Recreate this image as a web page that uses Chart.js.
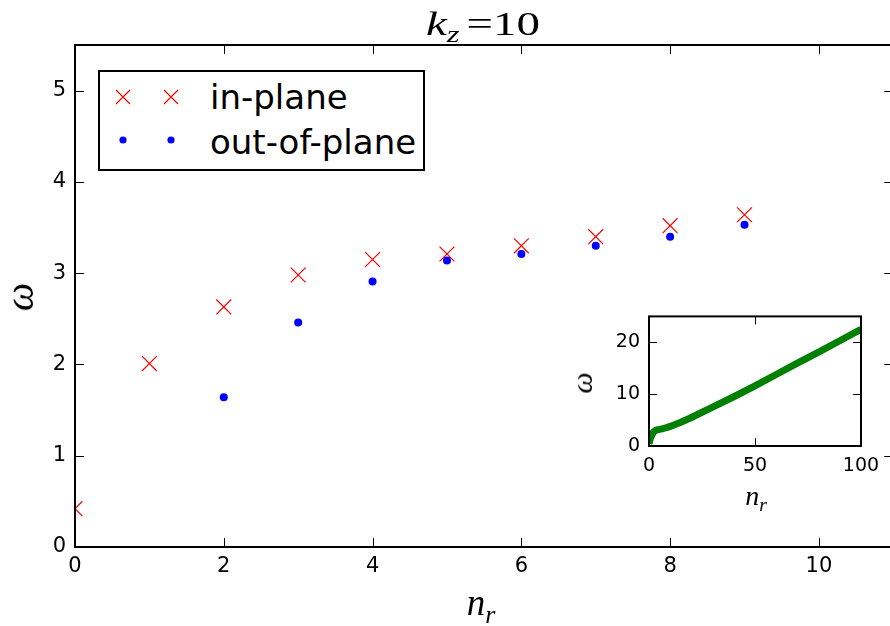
<!DOCTYPE html>
<html>
<head>
<meta charset="utf-8">
<script src="https://cdn.jsdelivr.net/npm/chart.js@4/dist/chart.umd.min.js"></script>
<style>
  html, body { margin: 0; padding: 0; background: #fff; overflow: hidden; width: 890px; height: 626px; }
  #wrap { position: relative; width: 890px; height: 626px; overflow: hidden; }
  canvas { position: absolute; }
  .lbl { position: absolute; white-space: nowrap; line-height: 1; color: #000; }
  .math { font-family: "Liberation Serif", "DejaVu Serif", serif; }
  .math i { font-style: italic; }
  .math sub { font-size: 70%; vertical-align: -0.3em; line-height: 0; }
  #legend { position: absolute; left: 98px; top: 70px; width: 327px; height: 101px; box-sizing: border-box;
            border: 2px solid #000; background: #fff; font-family: "DejaVu Sans", sans-serif; font-size: 34px; }
  #legend .t { position: absolute; left: 110px; line-height: 1; }
  #legend svg { position: absolute; }
</style>
</head>
<body>
<div id="wrap">
  <canvas id="main" width="905" height="626" style="left:0;top:0"></canvas>
  <canvas id="inset" width="330" height="214" style="left:560px;top:296px"></canvas>

  <div class="lbl math" id="title" style="font-size:34px;left:483px;top:7px;transform:translateX(-50%) scaleX(1.38)"><i>k</i><sub><i>z</i></sub><span style="margin-left:5px">=</span>10</div>
  <div class="lbl math" style="font-size:37px;left:481px;top:584px;transform:translateX(-50%)"><i>n</i><sub><i>r</i></sub></div>
  <div class="lbl math" style="font-size:40px;left:20px;top:297px;transform:translate(-50%,-50%) rotate(-90deg)"><i>ω</i></div>

  <div class="lbl math" style="font-size:28px;left:756px;top:482px;transform:translateX(-50%)"><i>n</i><sub><i>r</i></sub></div>
  <div class="lbl math" style="font-size:30px;left:582px;top:383px;transform:translate(-50%,-50%) rotate(-90deg)"><i>ω</i></div>

  <div id="legend">
    <svg style="left:15px;top:17px" width="16" height="16"><path d="M1 1 L15 15 M15 1 L1 15" stroke="#ff0000" stroke-width="1.2"/></svg>
    <svg style="left:63px;top:17px" width="16" height="16"><path d="M1 1 L15 15 M15 1 L1 15" stroke="#ff0000" stroke-width="1.2"/></svg>
    <div class="t" style="top:8px">in-plane</div>
    <svg style="left:19px;top:64px" width="8" height="8"><circle cx="4" cy="4" r="3.6" fill="#0000ff"/></svg>
    <svg style="left:67px;top:64px" width="8" height="8"><circle cx="4" cy="4" r="3.6" fill="#0000ff"/></svg>
    <div class="t" style="top:53px">out-of-plane</div>
  </div>
</div>

<script>
// main panel: k_z = 10, first ten radial modes
var nr = [0, 1, 2, 3, 4, 5, 6, 7, 8, 9];
var inPlane = [0.42, 2.01, 2.63, 2.98, 3.15, 3.21, 3.30, 3.40, 3.52, 3.64];
var nrOut = [2, 3, 4, 5, 6, 7, 8, 9];
var outOfPlane = [1.64, 2.46, 2.91, 3.14, 3.21, 3.30, 3.40, 3.53];

// inset: same branches out to n_r = 100
var insetN = [0, 1, 2, 3, 4, 5, 6, 7, 8, 9, 10, 15, 20, 30, 40, 50, 60, 70, 80, 90, 100];
var insetIn = [0.42, 2.01, 2.63, 2.98, 3.15, 3.21, 3.30, 3.40, 3.52, 3.64, 3.78, 4.6, 5.5, 7.5, 9.5, 11.6, 13.8, 16.0, 18.1, 20.3, 22.5];
var insetNOut = [2, 3, 4, 5, 6, 7, 8, 9, 10, 15, 20, 30, 40, 50, 60, 70, 80, 90, 100];
var insetOut = [1.64, 2.46, 2.91, 3.14, 3.21, 3.30, 3.40, 3.53, 3.62, 4.4, 5.3, 7.3, 9.3, 11.4, 13.6, 15.8, 17.9, 20.1, 22.3];

function pairs(xs, ys) {
    return xs.map(function (x, i) { return { x: x, y: ys[i] }; });
}

// matplotlib-style frame with inward ticks on all four sides
var innerTicks = {
    id: 'innerTicks',
    afterDraw: function (chart, args, opts) {
        var ctx = chart.ctx, a = chart.chartArea, sx = chart.scales.x, sy = chart.scales.y;
        var L = opts.len;
        ctx.save();
        ctx.strokeStyle = '#000';
        ctx.lineWidth = 1;
        ctx.beginPath();
        sx.ticks.forEach(function (t) {
            var px = Math.round(sx.getPixelForValue(t.value)) + 0.5;
            ctx.moveTo(px, a.bottom); ctx.lineTo(px, a.bottom - L);
            ctx.moveTo(px, a.top); ctx.lineTo(px, a.top + L);
        });
        sy.ticks.forEach(function (t) {
            var py = Math.round(sy.getPixelForValue(t.value)) + 0.5;
            ctx.moveTo(a.left, py); ctx.lineTo(a.left + L, py);
            ctx.moveTo(a.right, py); ctx.lineTo(a.right - L, py);
        });
        ctx.stroke();
        ctx.lineWidth = opts.frame;
        ctx.strokeRect(a.left, a.top, a.right - a.left, a.bottom - a.top);
        ctx.restore();
    }
};

function axis(min, max, step, font, pad, fit, isX) {
    return {
        type: 'linear',
        min: min,
        max: max,
        ticks: { stepSize: step, color: '#000', padding: pad, maxRotation: 0, autoSkip: false,
                 font: { family: 'DejaVu Sans', size: font } },
        grid: { display: false, drawTicks: false },
        border: { display: false },
        afterBuildTicks: function (s) {
            s.ticks = s.ticks.filter(function (t) { return Math.abs(t.value / step - Math.round(t.value / step)) < 1e-9; });
        },
        afterFit: function (s) {
            if (isX) { s.height = fit; } else { s.width = fit; }
        }
    };
}

new Chart(document.getElementById('main').getContext('2d'), {
    type: 'scatter',
    data: {
        datasets: [
            {
                label: 'out-of-plane',
                data: pairs(nrOut, outOfPlane),
                pointStyle: 'circle',
                pointRadius: 4,
                pointBorderWidth: 0,
                backgroundColor: '#0000ff',
                borderColor: '#0000ff',
                clip: 0
            },
            {
                label: 'in-plane',
                data: pairs(nr, inPlane),
                pointStyle: 'crossRot',
                pointRadius: 10.5,
                pointBorderWidth: 1.2,
                borderColor: '#ff0000',
                backgroundColor: '#ff0000',
                clip: 0
            }
        ]
    },
    options: {
        responsive: false,
        animation: false,
        layout: { padding: { top: 45, right: 7, left: 0, bottom: 0 } },
        plugins: { legend: { display: false }, tooltip: { enabled: false }, innerTicks: { len: 9, frame: 2 } },
        scales: {
            x: axis(0, 11, 2, 21, 7, 79, true),
            y: axis(0, 5.5, 1, 21, 9, 75, false)
        }
    },
    plugins: [innerTicks]
});

new Chart(document.getElementById('inset').getContext('2d'), {
    type: 'scatter',
    data: {
        datasets: [
            {
                label: 'in-plane',
                data: pairs(insetN, insetIn),
                showLine: true,
                borderColor: '#008000',
                borderWidth: 7,
                pointRadius: 0,
                tension: 0,
                clip: 0
            },
            {
                label: 'out-of-plane',
                data: pairs(insetNOut, insetOut),
                showLine: true,
                borderColor: '#0000ff',
                borderWidth: 2,
                pointRadius: 0,
                tension: 0,
                clip: 0
            }
        ]
    },
    options: {
        responsive: false,
        animation: false,
        layout: { padding: { top: 20, right: 29, left: 0, bottom: 0 } },
        plugins: { legend: { display: false }, tooltip: { enabled: false }, innerTicks: { len: 8, frame: 2 } },
        scales: {
            x: axis(0, 100, 50, 19, 9, 64, true),
            y: axis(0, 25, 10, 19, 9, 89, false)
        }
    },
    plugins: [innerTicks]
});
</script>
</body>
</html>
